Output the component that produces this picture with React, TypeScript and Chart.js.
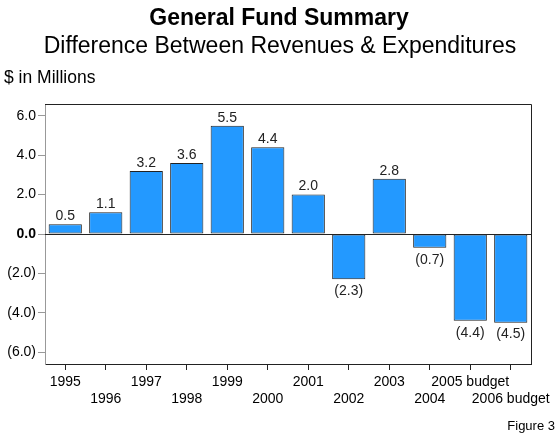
import React, { useEffect, useRef } from "react";
import { Chart, registerables } from "chart.js";

Chart.register(...registerables);

const categories = ["1995", "1996", "1997", "1998", "1999", "2000", "2001", "2002", "2003", "2004", "2005 budget", "2006 budget"];
const values = [0.5, 1.1, 3.2, 3.6, 5.5, 4.4, 2.0, -2.3, 2.8, -0.7, -4.4, -4.5];
const yTicks = [-6, -4, -2, 0, 2, 4, 6];
const titleText = "General Fund Summary";
const subtitleText = "Difference Between Revenues & Expenditures";
const unitText = "$ in Millions";
const figureText = "Figure 3";

const FONT = "'Liberation Sans', Arial, sans-serif";
const fmt = (v: number) => (v < 0 ? `(${Math.abs(v).toFixed(1)})` : v.toFixed(1));

const decorPlugin = {
  id: "decor",
  afterDatasetsDraw(chart: any) {
    const { ctx, chartArea, scales } = chart;
    const y0 = scales.y.getPixelForValue(0);
    ctx.save();
    // zero line
    ctx.strokeStyle = "#222";
    ctx.lineWidth = 1;
    ctx.beginPath();
    ctx.moveTo(chartArea.left, Math.round(y0) + 0.5);
    ctx.lineTo(chartArea.right, Math.round(y0) + 0.5);
    ctx.stroke();
    // top and right border
    ctx.beginPath();
    ctx.moveTo(chartArea.left, Math.round(chartArea.top) + 0.5);
    ctx.lineTo(Math.round(chartArea.right) + 0.5, Math.round(chartArea.top) + 0.5);
    ctx.lineTo(Math.round(chartArea.right) + 0.5, Math.round(chartArea.bottom));
    ctx.stroke();
    // value labels
    const meta = chart.getDatasetMeta(0);
    ctx.fillStyle = "#222";
    ctx.font = `14px ${FONT}`;
    ctx.textAlign = "center";
    meta.data.forEach((bar: any, i: number) => {
      const v = values[i];
      if (v >= 0) {
        ctx.textBaseline = "bottom";
        ctx.fillText(fmt(v), bar.x, bar.y - 1);
      } else {
        ctx.textBaseline = "top";
        ctx.fillText(fmt(v), bar.x, bar.y + 5);
      }
    });
    // titles
    ctx.fillStyle = "#000";
    ctx.textBaseline = "middle";
    ctx.font = `bold 23px ${FONT}`;
    ctx.fillText(titleText, 279, 19);
    ctx.font = `23px ${FONT}`;
    ctx.fillText(subtitleText, 280, 47);
    ctx.textAlign = "left";
    ctx.font = `17.5px ${FONT}`;
    ctx.fillText(unitText, 4, 78);
    ctx.textAlign = "right";
    ctx.font = `13px ${FONT}`;
    ctx.fillText(figureText, 555, 426);
    ctx.restore();
  },
};

export default function App() {
  const ref = useRef<HTMLCanvasElement | null>(null);
  useEffect(() => {
    if (!ref.current) return;
    const chart = new Chart(ref.current, {
      type: "bar",
      data: {
        labels: categories,
        datasets: [
          {
            data: values,
            backgroundColor: "#2399FF",
            borderColor: "#222",
            borderWidth: 1,
            borderSkipped: false,
            barPercentage: 0.82,
            categoryPercentage: 1,
          },
        ],
      },
      options: {
        animation: false,
        responsive: false,
        maintainAspectRatio: false,
        layout: { padding: { left: 0, right: 28, top: 104, bottom: 28 } },
        plugins: { legend: { display: false }, tooltip: { enabled: false }, title: { display: false } },
        scales: {
          x: {
            offset: true,
            grid: { offset: false, drawOnChartArea: false, drawTicks: true, tickLength: 6, color: "#222" },
            border: { display: true, color: "#222" },
            ticks: {
              autoSkip: false,
              maxRotation: 0,
              minRotation: 0,
              padding: 3,
              color: "#000",
              font: { family: FONT, size: 14, lineHeight: 1.25 },
              callback: (_v: any, i: number) => (i % 2 === 1 ? ["", categories[i]] : categories[i]),
            },
            afterFit: (s: any) => {
              s.height = 50;
            },
          },
          y: {
            min: -6.6,
            max: 6.6,
            afterBuildTicks: (s: any) => {
              s.ticks = yTicks.map((v) => ({ value: v }));
            },
            grid: { drawOnChartArea: false, drawTicks: true, tickLength: 7, color: "#999" },
            border: { display: true, color: "#999" },
            ticks: {
              padding: 2,
              color: "#000",
              font: (c: any) => ({ family: FONT, size: 14, weight: c.tick && c.tick.value === 0 ? "bold" : "normal" }),
              callback: (v: any) => fmt(Number(v)),
            },
            afterFit: (s: any) => {
              s.width = 45;
            },
          },
        },
      },
      plugins: [decorPlugin],
    });
    return () => chart.destroy();
  }, []);
  return (
    <div style={{ position: "fixed", left: 0, top: 0, width: 559, height: 442, background: "#fff" }}>
      <canvas ref={ref} width={559} height={442} style={{ width: 559, height: 442 }} />
    </div>
  );
}
